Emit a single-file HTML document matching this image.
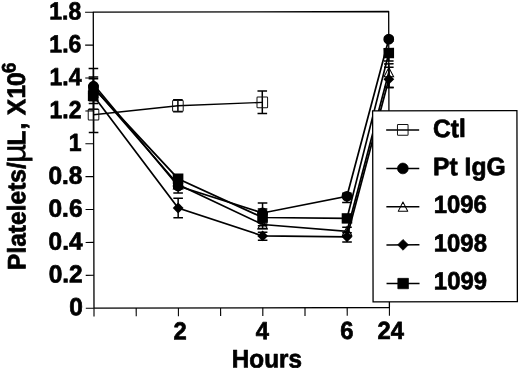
<!DOCTYPE html>
<html lang="en"><head><meta charset="utf-8"><title>Platelets vs Hours</title>
<style>html,body{margin:0;padding:0;background:#fff;}body{width:520px;height:369px;overflow:hidden;}svg{display:block;}</style>
</head><body>
<svg width="520" height="369" viewBox="0 0 520 369">
<rect width="520" height="369" fill="#fff"/>
<g transform="rotate(-0.14 260 185)">
<g font-family="'Liberation Sans', Arial, Helvetica, sans-serif" font-weight="bold" font-size="25.4px" fill="#000" stroke="#000" stroke-width="0.7" stroke-linejoin="round">
<text font-size="24.8px" transform="translate(82.5,314.9) scale(0.99,1)" text-anchor="end">0</text>
<text font-size="24.8px" transform="translate(82.5,282.1) scale(0.99,1)" text-anchor="end">0.2</text>
<text font-size="24.8px" transform="translate(82.5,249.2) scale(0.99,1)" text-anchor="end">0.4</text>
<text font-size="24.8px" transform="translate(82.5,216.3) scale(0.99,1)" text-anchor="end">0.6</text>
<text font-size="24.8px" transform="translate(82.5,183.4) scale(0.99,1)" text-anchor="end">0.8</text>
<text font-size="24.8px" transform="translate(81.7,150.5) scale(0.93,1)" text-anchor="end">1</text>
<text font-size="24.8px" transform="translate(81.7,117.7) scale(0.93,1)" text-anchor="end">1.2</text>
<text font-size="24.8px" transform="translate(81.7,84.8) scale(0.93,1)" text-anchor="end">1.4</text>
<text font-size="24.8px" transform="translate(81.7,51.9) scale(0.93,1)" text-anchor="end">1.6</text>
<text font-size="24.8px" transform="translate(81.7,19.0) scale(0.93,1)" text-anchor="end">1.8</text>
<text font-size="24.8px" transform="translate(179.7,339.2) scale(0.96,1)" text-anchor="middle">2</text>
<text font-size="24.8px" transform="translate(262.1,339.2) scale(0.96,1)" text-anchor="middle">4</text>
<text font-size="24.8px" transform="translate(346.6,339.2) scale(0.96,1)" text-anchor="middle">6</text>
<text font-size="24.8px" transform="translate(390.3,339.2) scale(0.96,1)" text-anchor="middle">24</text>
<text transform="translate(266.4,367.5) scale(0.957,1)" text-anchor="middle">Hours</text>
<text transform="translate(25.3,269.4) rotate(-90) scale(0.967,1)">Platelets/<tspan font-weight="normal" font-size="34px" stroke-width="0.4" dx="-0.7">µ</tspan><tspan dx="-1.7" letter-spacing="0.6">L</tspan><tspan dx="0.6" letter-spacing="0.6">,</tspan><tspan dx="-0.8" letter-spacing="0.6"> X1</tspan><tspan dx="-1.9">0</tspan><tspan font-size="19.5px" dy="-9.5" dx="-0.6">6</tspan></text>
</g>
<g stroke="#000" stroke-width="1.3" fill="none" stroke-linejoin="round">
<path d="M93.7 307.8V11.8H389.1V307.8H93.7"/>
<path d="M85.5 307.8H93.7" stroke-width="1.1"/>
<path d="M85.5 274.9H93.7" stroke-width="1.1"/>
<path d="M85.5 242.0H93.7" stroke-width="1.1"/>
<path d="M85.5 209.1H93.7" stroke-width="1.1"/>
<path d="M85.5 176.2H93.7" stroke-width="1.1"/>
<path d="M85.5 143.3H93.7" stroke-width="1.1"/>
<path d="M85.5 110.5H93.7" stroke-width="1.1"/>
<path d="M85.5 77.6H93.7" stroke-width="1.1"/>
<path d="M85.5 44.7H93.7" stroke-width="1.1"/>
<path d="M85.5 11.8H93.7" stroke-width="1.1"/>
<path d="M93.7 307.8v8.2" stroke-width="1.1"/>
<path d="M135.9 307.8v8.2" stroke-width="1.1"/>
<path d="M178.1 307.8v8.2" stroke-width="1.1"/>
<path d="M220.3 307.8v8.2" stroke-width="1.1"/>
<path d="M262.5 307.8v8.2" stroke-width="1.1"/>
<path d="M304.7 307.8v8.2" stroke-width="1.1"/>
<path d="M346.9 307.8v8.2" stroke-width="1.1"/>
<path d="M389.1 307.8v8.2" stroke-width="1.1"/>
</g>
<g stroke="#000" stroke-width="1.7" fill="none">
<path d="M93.7 114.3L178.1 105.6L262.5 102.4" stroke-width="1.45"/>
<path d="M93.7 96.8V132.0M88.9 96.8h9.6M88.9 132.0h9.6" stroke-width="1.5"/>
<path d="M178.1 99.5V111.6M173.3 99.5h9.6M173.3 111.6h9.6" stroke-width="1.5"/>
<path d="M262.5 91.1V113.6M257.7 91.1h9.6M257.7 113.6h9.6" stroke-width="1.5"/>
<path d="M93.7 86.8L178.1 184.3L262.5 224.5L346.9 231.5L389.1 72.5"/>
<path d="M93.7 78.3V103.2M88.9 78.3h9.6M88.9 103.2h9.6" stroke-width="1.5"/>
<path d="M178.1 180.3V188.3M173.3 180.3h9.6M173.3 188.3h9.6" stroke-width="1.5"/>
<path d="M262.5 220.5V228.5M257.7 220.5h9.6M257.7 228.5h9.6" stroke-width="1.5"/>
<path d="M346.9 227.5V235.5M342.1 227.5h9.6M342.1 235.5h9.6" stroke-width="1.5"/>
<path d="M389.1 64.2V87.9M384.3 64.2h9.6M384.3 87.9h9.6" stroke-width="1.5"/>
<path d="M93.7 95.3L178.1 207.8L262.5 235.9L346.9 237.0L389.1 79.5"/>
<path d="M93.7 87.3V108.8M88.9 87.3h9.6M88.9 108.8h9.6" stroke-width="1.5"/>
<path d="M178.1 198.0V217.6M173.3 198.0h9.6M173.3 217.6h9.6" stroke-width="1.5"/>
<path d="M262.5 232.3V240.3M257.7 232.3h9.6M257.7 240.3h9.6" stroke-width="1.5"/>
<path d="M346.9 233.0V242.3M342.1 233.0h9.6M342.1 242.3h9.6" stroke-width="1.5"/>
<path d="M389.1 67.5V87.9M384.3 67.5h9.6M384.3 87.9h9.6" stroke-width="1.5"/>
<path d="M93.7 83.8L178.1 185.8L262.5 213.0L346.9 196.5L389.1 39.5"/>
<path d="M93.7 68.1V100.3M88.9 68.1h9.6M88.9 100.3h9.6" stroke-width="1.5"/>
<path d="M178.1 178.8V192.9M173.3 178.8h9.6M173.3 192.9h9.6" stroke-width="1.5"/>
<path d="M262.5 202.9V223.0M257.7 202.9h9.6M257.7 223.0h9.6" stroke-width="1.5"/>
<path d="M346.9 193.5V202.6M342.1 193.5h9.6M342.1 202.6h9.6" stroke-width="1.5"/>
<path d="M389.1 37.5V41.5M384.3 37.5h9.6M384.3 41.5h9.6" stroke-width="1.5"/>
<path d="M93.7 87.4L178.1 178.5L262.5 217.5L346.9 218.6L389.1 53.4"/>
<path d="M93.7 76.6V96.8M88.9 76.6h9.6M88.9 96.8h9.6" stroke-width="1.5"/>
<path d="M178.1 174.5V182.5M173.3 174.5h9.6M173.3 182.5h9.6" stroke-width="1.5"/>
<path d="M262.5 209.0V225.7M257.7 209.0h9.6M257.7 225.7h9.6" stroke-width="1.5"/>
<path d="M346.9 214.6V222.6M342.1 214.6h9.6M342.1 222.6h9.6" stroke-width="1.5"/>
<path d="M389.1 49.4V61.4M384.3 49.4h9.6M384.3 61.4h9.6" stroke-width="1.5"/>
</g>
<rect x="88.4" y="108.9" width="10.6" height="10.8" rx="0.8" fill="none" stroke="#111" stroke-width="1"/>
<rect x="172.8" y="100.2" width="10.6" height="10.8" rx="0.8" fill="none" stroke="#111" stroke-width="1"/>
<rect x="257.2" y="97.0" width="10.6" height="10.8" rx="0.8" fill="none" stroke="#111" stroke-width="1"/>
<path d="M93.7 83.3L98.5 92.6H88.9Z" fill="none" stroke="#000" stroke-width="1"/>
<path d="M178.1 179.6L182.9 188.9H173.3Z" fill="none" stroke="#000" stroke-width="1"/>
<path d="M262.5 219.8L267.3 229.1H257.7Z" fill="none" stroke="#000" stroke-width="1"/>
<path d="M346.9 226.8L351.7 236.1H342.1Z" fill="none" stroke="#000" stroke-width="1"/>
<path d="M389.1 67.8L393.9 77.1H384.3Z" fill="none" stroke="#000" stroke-width="1"/>
<path d="M93.7 89.9L99.1 95.3L93.7 100.7L88.3 95.3Z" fill="#000"/>
<path d="M178.1 202.4L183.5 207.8L178.1 213.2L172.7 207.8Z" fill="#000"/>
<path d="M262.5 230.5L267.9 235.9L262.5 241.3L257.1 235.9Z" fill="#000"/>
<path d="M346.9 231.6L352.3 237.0L346.9 242.4L341.5 237.0Z" fill="#000"/>
<path d="M389.1 74.1L394.5 79.5L389.1 84.9L383.7 79.5Z" fill="#000"/>
<circle cx="93.7" cy="85.8" r="5.4" fill="#000"/>
<circle cx="178.1" cy="185.8" r="5.4" fill="#000"/>
<circle cx="262.5" cy="213.0" r="5.4" fill="#000"/>
<circle cx="346.9" cy="196.5" r="5.4" fill="#000"/>
<circle cx="389.1" cy="39.5" r="5.4" fill="#000"/>
<rect x="88.4" y="84.3" width="10.6" height="10.4" fill="#000"/>
<rect x="172.8" y="173.3" width="10.6" height="10.4" fill="#000"/>
<rect x="257.2" y="212.3" width="10.6" height="10.4" fill="#000"/>
<rect x="341.6" y="213.4" width="10.6" height="10.4" fill="#000"/>
<rect x="383.8" y="48.2" width="10.6" height="10.4" fill="#000"/>
<rect x="88.1" y="90" width="10.6" height="10.5" fill="#000"/>
<rect x="372.8" y="111.2" width="144.3" height="191" fill="#fff" stroke="#000" stroke-width="1.3"/>
<g font-family="'Liberation Sans', Arial, Helvetica, sans-serif" font-weight="bold" font-size="25.4px" fill="#000" stroke="#000" stroke-width="0.7" stroke-linejoin="round">
<path d="M386.3 130.3H419.3" stroke="#000" stroke-width="1.5"/>
<rect x="397.6" y="124.9" width="10.6" height="10.8" rx="0.8" fill="none" stroke="#111" stroke-width="1"/>
<text transform="translate(433.0,137.6) scale(0.973,1)" text-anchor="start">Ctl</text>
<path d="M386.3 168.8H419.3" stroke="#000" stroke-width="1.5"/>
<circle cx="402.9" cy="168.8" r="5.4" fill="#000"/>
<text transform="translate(433.0,175.7) scale(0.973,1)" text-anchor="start">Pt IgG</text>
<path d="M386.3 207.1H419.3" stroke="#000" stroke-width="1.5"/>
<path d="M402.9 202.4L407.7 211.7H398.1Z" fill="none" stroke="#000" stroke-width="1"/>
<text font-size="24.8px" transform="translate(433.6,213.3) scale(0.965,1)" text-anchor="start">1096</text>
<path d="M386.3 245.2H419.3" stroke="#000" stroke-width="1.5"/>
<path d="M402.9 239.8L408.3 245.2L402.9 250.6L397.5 245.2Z" fill="#000"/>
<text font-size="24.8px" transform="translate(433.6,252.0) scale(0.965,1)" text-anchor="start">1098</text>
<path d="M386.3 283.9H419.3" stroke="#000" stroke-width="1.5"/>
<rect x="397.6" y="278.7" width="10.6" height="10.4" fill="#000"/>
<text font-size="24.8px" transform="translate(433.6,289.8) scale(0.965,1)" text-anchor="start">1099</text>
</g>
</g>
</svg>
</body></html>
